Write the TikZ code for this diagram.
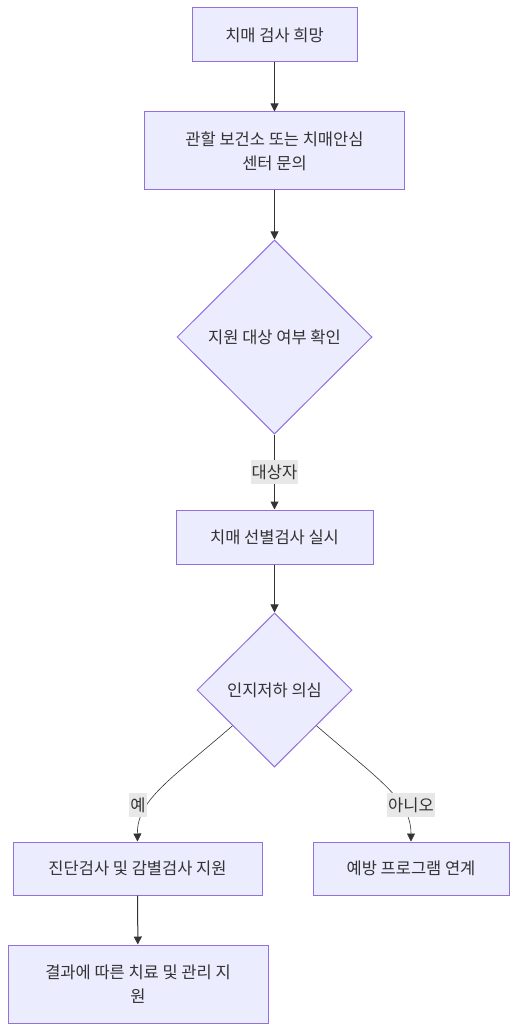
\documentclass[tikz,border=0pt]{standalone}
\usepackage{fontspec}
\setmainfont{Noto Sans CJK KR}
\usetikzlibrary{arrows.meta, positioning, shapes.geometric}
\definecolor{nodefill}{HTML}{ECECFF}
\definecolor{nodeline}{HTML}{9370DB}
\definecolor{ink}{HTML}{333333}
\definecolor{lblbg}{HTML}{E8E8E8}
\begin{document}
\begin{tikzpicture}[
		x=1pt, y=-1pt,
		box/.style={draw=nodeline, fill=nodefill, line width=1pt, align=center, text=ink, font=\fontsize{16.5}{24}\selectfont, inner sep=0pt},
		choice/.style={diamond, draw=nodeline, fill=nodefill, line width=1pt, align=center, text=ink, font=\fontsize{16.5}{24}\selectfont, inner sep=0pt},
		lbl/.style={fill=lblbg, text=ink, font=\fontsize{16.5}{18}\selectfont, inner sep=1pt, minimum height=24pt},
		flow/.style={draw=ink, line width=1pt, -{Triangle[length=8pt, width=8pt]}},
		>=Stealth
	]
	\useasboundingbox (0,0) rectangle (518,1032);

	\node[box, minimum width=165pt, minimum height=54pt] (wish) at (274.5,35) {치매 검사 희망};
	\node[box, minimum width=260pt, minimum height=78pt] (ask) at (274.5,151) {관할 보건소 또는 치매안심\\센터 문의};
	\node[choice, minimum width=195pt, minimum height=194pt] (check) at (274.5,337) {지원 대상 여부 확인};
	\node[box, minimum width=197pt, minimum height=54pt] (screen) at (274.5,537) {치매 선별검사 실시};
	\node[choice, minimum width=155pt, minimum height=154pt] (doubt) at (274.5,690) {인지저하 의심};
	\node[box, minimum width=249pt, minimum height=53pt] (diag) at (137.5,868.5) {진단검사 및 감별검사 지원};
	\node[box, minimum width=196pt, minimum height=53pt] (prev) at (411,868.5) {예방 프로그램 연계};
	\node[box, minimum width=260pt, minimum height=78pt] (care) at (138,984) {결과에 따른 치료 및 관리 지\\원};

	\draw[flow] (wish) -- (ask);
	\draw[flow] (ask) -- (check);
	\draw[flow] (check) -- (screen)
		node[lbl, pos=0.5] (target) {대상자};
	\draw[flow] (screen) -- (doubt);
	\draw[flow, line width=0.6pt] (doubt.south west) ++(-3,-3) coordinate (yesstart)
		.. controls (170,780) and (137,800) .. (diag.north);
	\node[lbl] (yes) at (138,805) {예};
	\draw[flow, line width=0.6pt] (doubt.south east) ++(3,-3) coordinate (nostart)
		.. controls (379,780) and (411,800) .. (prev.north);
	\node[lbl] (no) at (411,805) {아니오};
	\draw[flow] (diag) -- (care);
\end{tikzpicture}
\end{document}
